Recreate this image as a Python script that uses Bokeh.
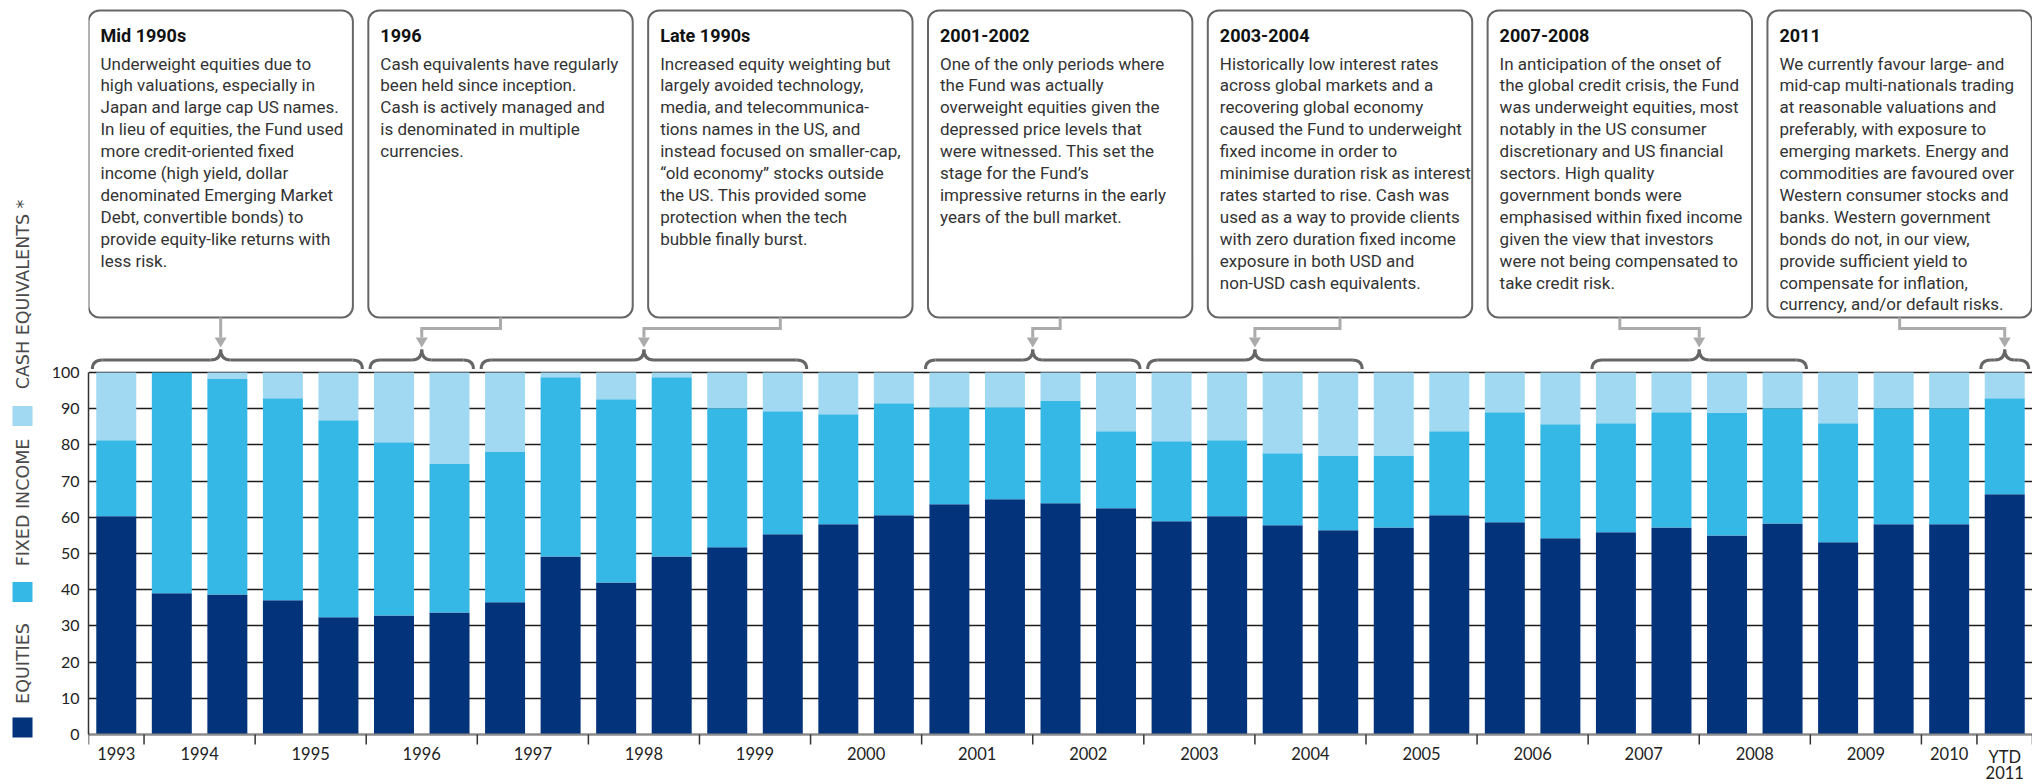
import math
from bokeh.plotting import figure
from bokeh.models import ColumnDataSource, Range1d, LinearAxis, FixedTicker, Grid
from bokeh.layouts import row
from bokeh.core.properties import value
from bokeh.embed import file_html
from bokeh.resources import INLINE

# ---------------- data ----------------
year_labels = ["1993", "1994", "1995", "1996", "1997", "1998", "1999", "2000",
               "2001", "2002", "2003", "2004", "2005", "2006", "2007", "2008",
               "2009", "2010", "YTD\n2011"]
bars_per_year = [1, 2, 2, 2, 2, 2, 2, 2, 2, 2, 2, 2, 2, 2, 2, 2, 2, 1, 1]

equities = [60.3, 39.0, 38.7, 37.1, 32.4, 32.9, 33.7, 36.5, 49.2, 42.0, 49.2,
            51.7, 55.3, 58.1, 60.6, 63.6, 65.0, 63.9, 62.5, 58.9, 60.3, 57.8,
            56.4, 57.2, 60.6, 58.6, 54.2, 55.9, 57.2, 55.0, 58.3, 53.1, 58.1,
            58.1, 66.4]
fixed_income = [21.0, 61.0, 59.5, 55.8, 54.4, 47.8, 41.0, 41.7, 49.5, 50.6, 49.5,
                38.4, 34.0, 30.4, 30.9, 26.8, 25.4, 28.2, 21.3, 22.1, 21.0, 19.9,
                20.5, 19.9, 23.2, 30.4, 31.5, 30.1, 31.8, 33.8, 31.8, 32.9, 32.0,
                32.0, 26.5]
cash_equivalents = [18.7, 0.0, 1.8, 7.1, 13.2, 19.3, 25.3, 21.8, 1.3, 7.4, 1.3,
                    9.9, 10.7, 11.5, 8.5, 9.6, 9.6, 7.9, 16.2, 19.0, 18.7, 22.3,
                    23.1, 22.9, 16.2, 11.0, 14.3, 14.0, 11.0, 11.2, 9.9, 14.0, 9.9,
                    9.9, 7.1]
series_names = ["EQUITIES", "FIXED INCOME", "CASH EQUIVALENTS *"]
y_ticks = [0, 10, 20, 30, 40, 50, 60, 70, 80, 90, 100]

note_titles = ["Mid 1990s", "1996", "Late 1990s", "2001-2002", "2003-2004",
               "2007-2008", "2011"]
note_bodies = [
    ["Underweight equities due to", "high valuations, especially in",
     "Japan and large cap US names.", "In lieu of equities, the Fund used",
     "more credit-oriented fixed", "income (high yield, dollar",
     "denominated Emerging Market", "Debt, convertible bonds) to",
     "provide equity-like returns with", "less risk."],
    ["Cash equivalents have regularly", "been held since inception.",
     "Cash is actively managed and", "is denominated in multiple",
     "currencies."],
    ["Increased equity weighting but", "largely avoided technology,",
     "media, and telecommunica-", "tions names in the US, and",
     "instead focused on smaller-cap,", "\u201cold economy\u201d stocks outside",
     "the US. This provided some", "protection when the tech",
     "bubble finally burst."],
    ["One of the only periods where", "the Fund was actually",
     "overweight equities given the", "depressed price levels that",
     "were witnessed. This set the", "stage for the Fund\u2019s",
     "impressive returns in the early", "years of the bull market."],
    ["Historically low interest rates", "across global markets and a",
     "recovering global economy", "caused the Fund to underweight",
     "fixed income in order to", "minimise duration risk as interest",
     "rates started to rise. Cash was", "used as a way to provide clients",
     "with zero duration fixed income", "exposure in both USD and",
     "non-USD cash equivalents."],
    ["In anticipation of the onset of", "the global credit crisis, the Fund",
     "was underweight equities, most", "notably in the US consumer",
     "discretionary and US financial", "sectors. High quality",
     "government bonds were", "emphasised within fixed income",
     "given the view that investors", "were not being compensated to",
     "take credit risk."],
    ["We currently favour large- and", "mid-cap multi-nationals trading",
     "at reasonable valuations and", "preferably, with exposure to",
     "emerging markets. Energy and", "commodities are favoured over",
     "Western consumer stocks and", "banks. Western government",
     "bonds do not, in our view,", "provide sufficient yield to",
     "compensate for inflation,", "currency, and/or default risks."],
]
note_year_spans = [("1993", "1995"), ("1996", "1996"), ("1997", "1999"),
                   ("2001", "2002"), ("2003", "2004"), ("2007", "2008"),
                   ("YTD\n2011", "YTD\n2011")]

# ---------------- styles ----------------
COLORS = ["#03337A", "#36B8E6", "#A1D8F2"]
BODY_FONT = "Roboto"
NUM_FONT = "Lato"
LEGEND_FONT = "DejaVu Sans"
BOX_LINE = "#666666"
ARROW_COLOR = "#ABABAB"
BRACE_COLOR = "#666666"

# ---------------- layout helpers ----------------
FIG_H = 784
LEG_W = 44
MAIN_W = 1988
LEFT_BORDER = 44
ZERO_PX = 734        # screen y of value 0
HUNDRED_PX = 372     # screen y of value 100
n_bars = sum(bars_per_year)
slot_px = (MAIN_W - LEFT_BORDER) / n_bars
unit_px = (ZERO_PX - HUNDRED_PX) / 100.0


def Y(sy):
    return (ZERO_PX - sy) / unit_px


y_top = Y(0)
y_bottom = Y(FIG_H)

# year structure
year_start = []
acc = 0
for b in bars_per_year:
    year_start.append(acc)
    acc += b
year_end = [s + b for s, b in zip(year_start, bars_per_year)]
year_center = [(s + e) / 2 for s, e in zip(year_start, year_end)]
boundaries = year_start + [year_end[-1]]

bar_x = [i + 0.5 for i in range(n_bars)]
src = ColumnDataSource(dict(x=bar_x, eq=equities, fi=fixed_income,
                            cash=cash_equivalents))

p = figure(width=MAIN_W, height=FIG_H, x_range=Range1d(0, n_bars),
           y_range=Range1d(y_bottom, y_top), toolbar_location=None,
           output_backend="svg", x_axis_location=None, y_axis_location=None,
           min_border_left=LEFT_BORDER, min_border_right=0, min_border_top=0,
           min_border_bottom=0, outline_line_color=None,
           background_fill_color="white", border_fill_color="white")
p.xgrid.visible = False
p.ygrid.visible = False

yaxis = LinearAxis(ticker=FixedTicker(ticks=y_ticks), bounds=(0, 100))
yaxis.axis_line_color = "#333333"
yaxis.axis_line_width = 1.5
yaxis.major_tick_line_color = None
yaxis.minor_tick_line_color = None
yaxis.major_tick_in = 0
yaxis.major_tick_out = 0
yaxis.major_label_standoff = 9
yaxis.major_label_text_font = NUM_FONT
yaxis.major_label_text_font_size = "16px"
yaxis.major_label_text_color = "#222222"
p.add_layout(yaxis, "left")

grid = Grid(dimension=1, ticker=FixedTicker(ticks=y_ticks),
            grid_line_color="#1c1c1c", grid_line_width=1.3)
p.add_layout(grid)

p.vbar_stack(["eq", "fi", "cash"], x="x", width=0.72, source=src,
             fill_color=COLORS, line_color=None)

# bottom axis line, ticks and labels
p.segment(x0=[0], y0=[0], x1=[n_bars], y1=[0], line_color="#8a8a8a", line_width=2)
p.segment(x0=boundaries, y0=[0] * len(boundaries), x1=boundaries,
          y1=[Y(744)] * len(boundaries), line_color="#333333", line_width=1.5)
p.text(x=year_center, y=[Y(746)] * len(year_center), text=year_labels,
       text_align="center", text_baseline="top", text_font=value(NUM_FONT),
       text_font_size=value("16.5px"), text_line_height=0.8,
       text_color="#222222")

# ---------------- annotation boxes ----------------
BOX_PITCH = 5.038
BOX_W = 4.76
box_left = [i * BOX_PITCH for i in range(len(note_titles))]
box_right = [l + BOX_W for l in box_left]
box_center = [l + BOX_W / 2 for l in box_left]
BOX_TOP = Y(10)
BOX_BOT = Y(317)
p.quad(left=box_left, right=box_right, top=[BOX_TOP] * 7, bottom=[BOX_BOT] * 7,
       fill_color="white", line_color=BOX_LINE, line_width=2, border_radius=11)

TXT_DX = 12 / slot_px
p.text(x=[l + TXT_DX for l in box_left], y=[Y(35)] * 7, text=note_titles,
       text_baseline="middle", text_font=value(BODY_FONT), text_font_style="bold",
       text_font_size=value("18px"), text_color="#111111")
bx, by, bt = [], [], []
for l, lines in zip(box_left, note_bodies):
    for k, line in enumerate(lines):
        bx.append(l + TXT_DX)
        by.append(Y(63 + k * 21.9))
        bt.append(line)
p.text(x=bx, y=by, text=bt, text_baseline="middle", text_font=value(BODY_FONT),
       text_font_size=value("17px"), text_color="#333333")

# ---------------- braces and arrows ----------------
idx = {lab: k for k, lab in enumerate(year_labels)}
INSET = 0.07
R = 0.18
Y_END, Y_FLAT, Y_CUSP = Y(368.5), Y(359.5), Y(349)
qx0, qy0, qx1, qy1, qcx, qcy = [], [], [], [], [], []
sx0, sx1 = [], []
cusps = []
for (ya, yb), bc in zip(note_year_spans, box_center):
    a = year_start[idx[ya]] + INSET
    b = year_end[idx[yb]] - INSET
    mid = (year_start[idx[ya]] + year_end[idx[yb]]) / 2
    c = bc if abs(bc - mid) < 0.3 else mid
    cusps.append(c)
    for (x0, y0, x1, y1, cx, cy) in [
            (a, Y_END, a + R, Y_FLAT, a, Y_FLAT),
            (c - R, Y_FLAT, c, Y_CUSP, c, Y_FLAT),
            (c, Y_CUSP, c + R, Y_FLAT, c, Y_FLAT),
            (b - R, Y_FLAT, b, Y_END, b, Y_FLAT)]:
        qx0.append(x0); qy0.append(y0); qx1.append(x1); qy1.append(y1)
        qcx.append(cx); qcy.append(cy)
    sx0 += [a + R, c + R]
    sx1 += [c - R, b - R]
p.quadratic(x0=qx0, y0=qy0, x1=qx1, y1=qy1, cx=qcx, cy=qcy,
            line_color=BRACE_COLOR, line_width=3)
p.segment(x0=sx0, y0=[Y_FLAT] * len(sx0), x1=sx1, y1=[Y_FLAT] * len(sx1),
          line_color=BRACE_COLOR, line_width=3)

HEAD_TOP, HEAD_TIP, JOG = Y(337), Y(347), Y(328)
HW = 6 / slot_px
lx, ly, hx, hy = [], [], [], []
for bc, c in zip(box_center, cusps):
    if abs(bc - c) < 1e-9:
        lx.append([bc, bc]); ly.append([BOX_BOT, HEAD_TOP])
    else:
        lx.append([bc, bc, c, c]); ly.append([BOX_BOT, JOG, JOG, HEAD_TOP])
    hx.append([c - HW, c + HW, c]); hy.append([HEAD_TOP, HEAD_TOP, HEAD_TIP])
p.multi_line(xs=lx, ys=ly, line_color=ARROW_COLOR, line_width=3,
             line_join="miter")
p.patches(xs=hx, ys=hy, fill_color=ARROW_COLOR, line_color=None)

# ---------------- side legend ----------------
leg = figure(width=LEG_W, height=FIG_H, x_range=Range1d(0, LEG_W),
             y_range=Range1d(0, FIG_H), toolbar_location=None,
             output_backend="svg", x_axis_location=None, y_axis_location=None,
             min_border=0, outline_line_color=None)
leg.xgrid.visible = False
leg.ygrid.visible = False


def LY(sy):
    return FIG_H - sy


sq_center = [LY(727), LY(591.5), LY(415.5)]
leg.rect(x=[22] * 3, y=sq_center, width=20, height=20, fill_color=COLORS,
         line_color=None)
leg.text(x=[22] * 3, y=[LY(663), LY(502), LY(294)], text=series_names,
         angle=math.pi / 2, text_align="center", text_baseline="middle",
         text_font=value(LEGEND_FONT), text_font_size=value("17.5px"),
         text_color="#4a4a4a")

layout = row(leg, p)
open("out.html", "w").write(file_html(layout, INLINE))
